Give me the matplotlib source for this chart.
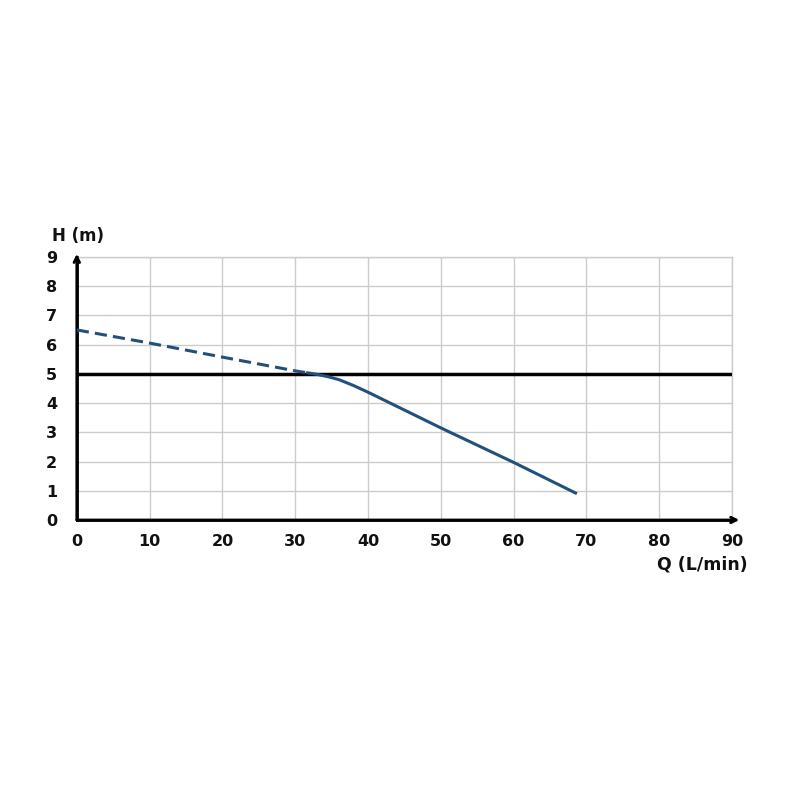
import matplotlib
matplotlib.use("Agg")
import matplotlib.pyplot as plt

# Data
dash_q = [0, 10, 20, 30, 31.5]
dash_h = [6.5, 6.05, 5.57, 5.1, 5.04]
solid_q = [31.5, 33, 34.5, 36, 38, 40, 50, 60, 68.7]
solid_h = [5.04, 4.98, 4.9, 4.8, 4.6, 4.37, 3.15, 1.97, 0.9]
ref_h = 5
x_ticks = [0, 10, 20, 30, 40, 50, 60, 70, 80, 90]
y_ticks = [0, 1, 2, 3, 4, 5, 6, 7, 8, 9]

plt.rcParams['font.family'] = ['DejaVu Sans']
fig = plt.figure(figsize=(8, 8), dpi=100)
ax = fig.add_axes([0.096, 0.35, 0.819, 0.329])
ax.set_xlim(0, 90)
ax.set_ylim(0, 9)
ax.set_xticks(x_ticks)
ax.set_yticks(y_ticks)
ax.grid(True, color='#cccccc', lw=1)
ax.set_axisbelow(True)
for s in ['top', 'right']:
    ax.spines[s].set_color('#cccccc')
    ax.spines[s].set_linewidth(1)
for s in ['left', 'bottom']:
    ax.spines[s].set_color('black')
    ax.spines[s].set_linewidth(2)
ax.tick_params(length=0, labelsize=11.5)
ax.tick_params(axis='x', pad=10)
ax.tick_params(axis='y', pad=14)
for lab in ax.get_xticklabels() + ax.get_yticklabels():
    lab.set_fontweight('bold')
    lab.set_color('#111111')

line_color = '#23507a'
ax.axhline(ref_h, color='black', lw=2.5, zorder=3)
ax.plot(dash_q, dash_h, color=line_color, lw=2.2, ls=(0, (4, 2)), zorder=4)
ax.plot(solid_q, solid_h, color=line_color, lw=2.2, zorder=4, solid_capstyle='butt')

# arrows
ax.annotate('', xy=(0, 9.1), xytext=(0, 0), xycoords='data',
            arrowprops=dict(arrowstyle='->', color='black', lw=2, shrinkA=0, shrinkB=0),
            annotation_clip=False)
ax.annotate('', xy=(91, 0), xytext=(0, 0), xycoords='data',
            arrowprops=dict(arrowstyle='->', color='black', lw=2, shrinkA=0, shrinkB=0),
            annotation_clip=False)

fig.text(0.065, 0.705, 'H (m)', fontsize=12, fontweight='bold', ha='left', va='center', color='#111111')
fig.text(0.935, 0.294, 'Q (L/min)', fontsize=12.5, fontweight='bold', ha='right', va='center', color='#111111')

fig.savefig('out.png', dpi=100, facecolor='white')
